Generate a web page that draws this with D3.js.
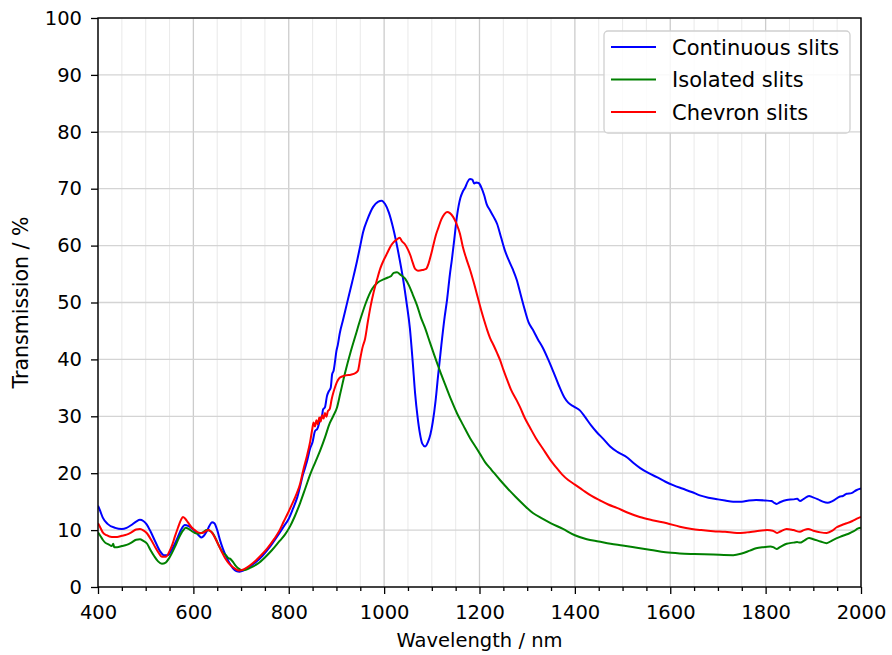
<!DOCTYPE html>
<html>
<head>
<meta charset="utf-8">
<script src="https://cdn.jsdelivr.net/npm/d3@7/dist/d3.min.js"></script>
<style>
  html, body { margin: 0; padding: 0; background: #fff; }
  svg { display: block; font-family: "DejaVu Sans", sans-serif; }
</style>
</head>
<body>
<svg id="chart" width="892" height="655"></svg>
<script>
// Transmission spectra, [wavelength (nm), transmission (%)]
const continuous = [[400,14.3],[404,13.5],[410,12.2],[420,11.1],[436,10.4],[450,10.2],[460,10.4],[470,10.9],[480,11.5],[488,11.8],[495,11.6],[502,11],[510,9.8],[520,8],[530,6.3],[538,5.6],[547,5.6],[555,6.6],[565,8.3],[575,10.2],[582,10.9],[590,10.7],[597,10.3],[605,9.7],[612,9],[617,8.7],[622,9],[628,9.8],[634,10.8],[639,11.4],[644,11.2],[650,10],[656,8.2],[662,6.7],[668,5.5],[675,4.3],[683,3.3],[690,2.8],[697,2.7],[705,2.9],[715,3.4],[730,4.3],[745,5.5],[760,7],[775,8.8],[790,10.7],[800,12],[809,13.8],[818,15.8],[830,19.8],[838,22],[845,24.4],[850,25.5],[855,27.4],[860,27.8],[866,29.5],[870,30.2],[872,31.2],[876,31.6],[880,33.5],[884,34.4],[888,35],[891,37.4],[894,38],[897,39.6],[900,41.5],[903,42.6],[907,44.6],[914,47],[922,49.8],[933,53.6],[943,57.2],[950,60],[956,62.4],[965,64.6],[977,66.8],[987,67.7],[995,67.9],[1002,67.3],[1010,65.8],[1018,63.4],[1025,60.8],[1032,57.8],[1040,54],[1047,50],[1054,45.5],[1060,39.5],[1065,34],[1070,30],[1075,27],[1080,25.2],[1086,24.7],[1092,25.5],[1097,26.8],[1102,29],[1108,32.8],[1113,37],[1120,42.5],[1127,47.5],[1132,50.5],[1138,55],[1142,57.5],[1147,61],[1153,65.3],[1160,68.4],[1165,69.5],[1170,70.2],[1175,71.2],[1180,71.7],[1185,71.6],[1189,70.9],[1193,71.1],[1198,71],[1204,70.2],[1210,68.8],[1215,67.3],[1222,66.2],[1230,65],[1237,63.8],[1245,61.5],[1253,59.2],[1262,57.3],[1270,55.8],[1278,54],[1286,51.5],[1295,48.7],[1303,46.5],[1312,45.2],[1322,43.6],[1333,42],[1344,40],[1355,37.8],[1366,35.5],[1378,33.3],[1386,32.4],[1398,31.7],[1411,31],[1422,29.8],[1434,28.4],[1446,27.2],[1460,26],[1474,24.7],[1490,23.7],[1509,22.8],[1523,21.8],[1537,20.9],[1555,20],[1572,19.3],[1590,18.5],[1606,17.9],[1625,17.3],[1645,16.7],[1662,16.1],[1680,15.7],[1700,15.4],[1715,15.2],[1732,15],[1750,15],[1765,15.2],[1780,15.3],[1800,15.2],[1812,15.1],[1818,14.8],[1823,14.6],[1830,14.9],[1844,15.3],[1858,15.4],[1866,15.5],[1872,15.1],[1880,15.5],[1891,16],[1898,15.8],[1910,15.4],[1920,15],[1930,14.8],[1940,15.1],[1956,15.9],[1962,16],[1970,16.4],[1980,16.5],[1990,17],[2000,17.3]];

const isolated = [[400,9.6],[404,9.1],[410,8.3],[415,7.8],[422,7.5],[429,7.2],[432,7.6],[434,7],[440,7],[450,7.2],[460,7.4],[470,7.8],[480,8.3],[488,8.4],[495,8.1],[503,7.6],[510,6.5],[518,5.4],[526,4.5],[534,4.1],[542,4.3],[550,5.2],[561,7],[570,8.7],[578,9.9],[584,10.4],[590,10.2],[597,9.8],[603,9.5],[612,9.4],[620,9.6],[628,10],[634,9.9],[640,9.5],[648,8.3],[655,7],[662,6],[668,5.6],[673,5.1],[678,4.9],[683,4.4],[688,3.8],[694,3.3],[700,3],[708,3],[720,3.4],[735,4.1],[750,5.2],[765,6.5],[780,8],[792,9.2],[803,10.7],[812,12.3],[824,14.8],[835,17.4],[845,19.8],[856,22],[866,24],[876,26.3],[886,28.8],[893,30],[901,31.5],[908,34],[918,37.6],[930,41.4],[940,44.2],[950,47],[962,50],[975,52.4],[988,53.6],[1000,54.1],[1008,54.4],[1014,54.6],[1020,55.2],[1027,55.3],[1034,54.9],[1044,54.2],[1052,53],[1060,51.4],[1069,49.5],[1077,47.4],[1085,45.7],[1096,43],[1105,40.8],[1117,38],[1127,35.8],[1140,33],[1153,30.5],[1166,28.4],[1180,26.2],[1192,24.6],[1201,23.4],[1212,21.9],[1225,20.6],[1243,18.8],[1258,17.4],[1275,15.9],[1292,14.5],[1312,13],[1330,12.1],[1350,11.2],[1375,10.2],[1400,9.1],[1425,8.4],[1450,8],[1475,7.6],[1500,7.3],[1530,6.9],[1560,6.5],[1590,6.1],[1620,5.9],[1650,5.8],[1690,5.7],[1732,5.6],[1750,5.9],[1767,6.4],[1780,6.8],[1795,7],[1810,7.1],[1816,7],[1823,6.7],[1830,7],[1844,7.6],[1858,7.8],[1866,7.9],[1872,7.8],[1880,8.1],[1891,8.6],[1900,8.4],[1915,8],[1928,7.7],[1940,8.2],[1956,8.8],[1965,9.1],[1975,9.4],[1985,9.8],[1994,10.3],[2000,10.4]];

const chevron = [[400,11.2],[404,10.6],[410,9.6],[418,9.1],[429,8.8],[440,8.8],[450,9],[460,9.2],[470,9.6],[480,10.1],[488,10.2],[496,9.9],[503,9.4],[512,8.2],[520,7],[528,5.9],[534,5.3],[542,5.3],[550,6.3],[556,7.5],[561,8.8],[568,10.5],[574,11.8],[578,12.3],[583,12],[589,11.3],[596,10.5],[603,10],[610,9.6],[618,9.5],[626,9.8],[631,10],[636,9.8],[641,9.3],[645,8.7],[652,7.5],[660,6.1],[667,5],[673,4.3],[680,3.7],[688,3.2],[695,2.9],[702,3],[712,3.4],[725,4.2],[740,5.4],[755,6.8],[770,8.5],[781,10],[790,11.6],[796,12.6],[805,14.2],[817,16.5],[824,18.2],[830,20.4],[838,23],[845,25.6],[849,27.6],[852,28.9],[855,28.2],[858,29.3],[861,28.6],[864,29.8],[867,29.1],[870,30.2],[873,29.6],[876,30.6],[879,29.9],[882,30.9],[886,31.3],[890,33],[894,34.3],[897,35.1],[901,36],[906,36.7],[912,37],[920,37.2],[930,37.3],[940,37.6],[945,38],[950,40.2],[955,42.2],[960,43.6],[966,46.7],[972,49.5],[978,51.8],[985,54],[992,56],[1000,57.6],[1006,58.6],[1013,59.8],[1020,60.6],[1027,61.1],[1033,61.4],[1037,60.8],[1044,60.2],[1050,59.3],[1055,58.3],[1060,57],[1065,55.9],[1071,55.6],[1080,55.7],[1088,55.9],[1093,56.8],[1098,58.3],[1103,60],[1108,61.7],[1114,63.2],[1120,64.6],[1126,65.5],[1132,65.9],[1138,65.7],[1145,65],[1152,63.8],[1159,62.1],[1165,59.8],[1172,57.8],[1180,55.8],[1188,53.5],[1196,51],[1204,48.5],[1210,46.8],[1216,45.2],[1222,43.8],[1230,42.4],[1237,41.1],[1243,39.9],[1250,38.2],[1258,36.4],[1266,34.7],[1278,32.8],[1285,31.6],[1295,29.7],[1306,28],[1318,26.2],[1333,24.3],[1348,22.4],[1360,21.1],[1373,19.8],[1386,18.8],[1400,18],[1417,17],[1435,16],[1453,15.2],[1470,14.5],[1488,13.9],[1510,13.1],[1536,12.3],[1565,11.7],[1593,11.2],[1620,10.6],[1645,10.2],[1665,10],[1690,9.8],[1715,9.7],[1740,9.5],[1760,9.6],[1780,9.8],[1803,10],[1815,9.9],[1824,9.5],[1832,9.8],[1844,10.2],[1858,10],[1872,9.7],[1880,10],[1889,10.2],[1900,9.9],[1915,9.6],[1928,9.5],[1940,9.9],[1949,10.5],[1960,10.9],[1970,11.2],[1982,11.6],[1994,12.1],[2000,12.3]];

const seriesNames = ["Continuous slits", "Isolated slits", "Chevron slits"];
const seriesColors = ["#0000ff", "#008000", "#ff0000"];
const seriesData = [continuous, isolated, chevron];

const xMajorTicks = [400, 600, 800, 1000, 1200, 1400, 1600, 1800, 2000];
const xMinorTicks = d3.range(450, 2000, 50).filter(v => v % 200 !== 0);
const yTicks = [0, 10, 20, 30, 40, 50, 60, 70, 80, 90, 100];

const xLabel = "Wavelength / nm";
const yLabel = "Transmission / %";

// Layout
const W = 892, H = 655;
const margin = { left: 98, right: 31, top: 18, bottom: 68 };
const pw = W - margin.left - margin.right;
const ph = H - margin.top - margin.bottom;

const svg = d3.select("#chart");
const g = svg.append("g").attr("transform", `translate(${margin.left},${margin.top})`);

const x = d3.scaleLinear().domain([400, 2000]).range([0, pw]);
const y = d3.scaleLinear().domain([0, 100]).range([ph, 0]);

// Grid: minor vertical lines, then major vertical and horizontal lines
const grid = g.append("g");
grid.selectAll("line.minor").data(xMinorTicks).join("line")
  .attr("x1", d => x(d)).attr("x2", d => x(d))
  .attr("y1", 0).attr("y2", ph)
  .attr("stroke", "#ebebeb").attr("stroke-width", 1.1);
grid.selectAll("line.xmajor").data(xMajorTicks).join("line")
  .attr("x1", d => x(d)).attr("x2", d => x(d))
  .attr("y1", 0).attr("y2", ph)
  .attr("stroke", "#cccccc").attr("stroke-width", 1.3);
grid.selectAll("line.ymajor").data(yTicks).join("line")
  .attr("x1", 0).attr("x2", pw)
  .attr("y1", d => y(d)).attr("y2", d => y(d))
  .attr("stroke", "#d4d4d4").attr("stroke-width", 1.3);

// Curves
const line = d3.line()
  .x(d => x(d[0]))
  .y(d => y(d[1]))
  .curve(d3.curveMonotoneX);

svg.append("defs").append("clipPath").attr("id", "plotclip")
  .append("rect").attr("width", pw).attr("height", ph);

g.append("g").attr("clip-path", "url(#plotclip)")
  .selectAll("path").data(seriesData).join("path")
  .attr("d", line)
  .attr("fill", "none")
  .attr("stroke", (d, i) => seriesColors[i])
  .attr("stroke-width", 2)
  .attr("stroke-linejoin", "round");

// Frame
g.append("rect")
  .attr("width", pw).attr("height", ph)
  .attr("fill", "none").attr("stroke", "#000").attr("stroke-width", 1.4);

// Axes
const fontTick = 19.5;
g.append("g").attr("transform", `translate(0,${ph})`)
  .call(d3.axisBottom(x).tickValues(xMajorTicks).tickFormat(d3.format("d"))
    .tickSize(7).tickSizeOuter(0).tickPadding(11));
g.append("g").attr("transform", `translate(0,${ph})`)
  .call(d3.axisBottom(x).tickValues(xMinorTicks).tickFormat("")
    .tickSize(4).tickSizeOuter(0));
g.append("g")
  .call(d3.axisLeft(y).tickValues(yTicks).tickFormat(d3.format("d"))
    .tickSize(7).tickSizeOuter(0).tickPadding(9));

g.selectAll(".domain").remove();
g.selectAll(".tick line").attr("stroke", "#000").attr("stroke-width", 1.3);
g.selectAll(".tick text")
  .attr("fill", "#000")
  .style("font-family", "'DejaVu Sans', sans-serif")
  .style("font-size", fontTick + "px");

// Axis titles
svg.append("text")
  .attr("x", margin.left + pw / 2).attr("y", 647)
  .attr("text-anchor", "middle")
  .style("font-size", "19.5px").attr("fill", "#000")
  .text(xLabel);
svg.append("text")
  .attr("transform", `translate(28,${margin.top + ph / 2}) rotate(-90)`)
  .attr("text-anchor", "middle")
  .style("font-size", "20.5px").attr("fill", "#000")
  .text(yLabel);

// Legend
const lg = svg.append("g").attr("transform", "translate(604,31)");
lg.append("rect")
  .attr("width", 246).attr("height", 102)
  .attr("rx", 4).attr("ry", 4)
  .attr("fill", "#ffffff").attr("fill-opacity", 0.85)
  .attr("stroke", "#d0d0d0").attr("stroke-width", 1.3);
const rows = lg.selectAll("g.row").data(seriesNames).join("g")
  .attr("transform", (d, i) => `translate(0,${16 + i * 32.5})`);
rows.append("line")
  .attr("x1", 7).attr("x2", 52)
  .attr("stroke", (d, i) => seriesColors[i]).attr("stroke-width", 2);
rows.append("text")
  .attr("x", 68).attr("dy", "0.36em")
  .style("font-size", "21px").attr("fill", "#000")
  .text(d => d);
</script>
</body>
</html>
